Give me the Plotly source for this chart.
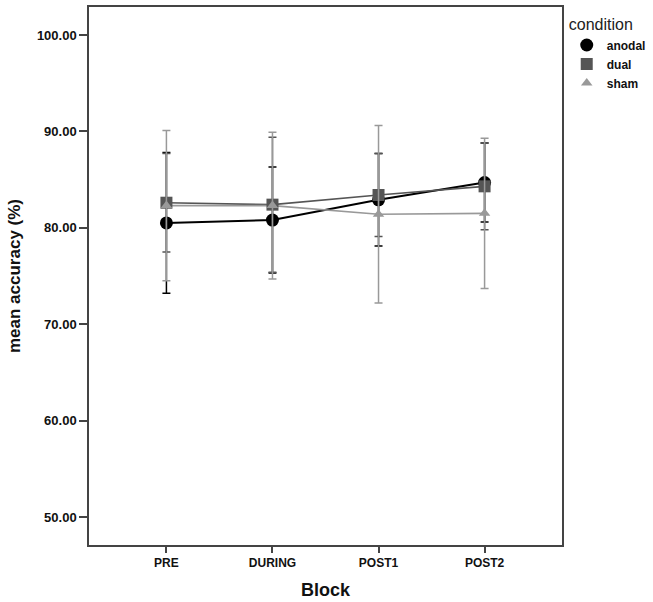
import plotly.graph_objects as go

blocks = ["PRE", "DURING", "POST1", "POST2"]
conditions = ["anodal", "dual", "sham"]
anodal_mean = [80.5, 80.8, 82.9, 84.7]
anodal_err = [7.3, 5.5, 4.8, 4.1]
dual_mean = [82.6, 82.4, 83.4, 84.3]
dual_err = [5.1, 7.0, 4.3, 4.5]
sham_mean = [82.3, 82.3, 81.4, 81.5]
sham_err = [7.8, 7.6, 9.2, 7.8]
y_ticks = [50, 60, 70, 80, 90, 100]

series = {
    "anodal": (anodal_mean, anodal_err, "#000000", "circle", 13, 2),
    "dual": (dual_mean, dual_err, "#555555", "square", 12, 1.6),
    "sham": (sham_mean, sham_err, "#999999", "triangle-up", 10, 1.6),
}

fig = go.Figure()
for name in conditions:
    m, e, c, sym, sz, lw = series[name]
    fig.add_trace(go.Scatter(
        x=blocks, y=m, mode="lines", line=dict(color=c, width=lw),
        showlegend=False, legendgroup=name, hoverinfo="skip"))
for name in conditions:
    m, e, c, sym, sz, lw = series[name]
    fig.add_trace(go.Scatter(
        x=blocks, y=m, mode="markers", name=name, legendgroup=name,
        marker=dict(color=c, symbol=sym, size=sz),
        error_y=dict(type="data", array=e, visible=True, color=c,
                     thickness=1.5, width=4)))

font_family = "Liberation Sans, Arial, sans-serif"
fig.update_layout(
    width=653, height=602,
    margin=dict(l=89, r=91, t=7, b=57, autoexpand=False),
    plot_bgcolor="white", paper_bgcolor="white",
    font=dict(family=font_family, color="#111111"),
    legend=dict(
        title=dict(text="condition", font=dict(size=16, color="#222222", weight="normal")),
        x=1.01, xanchor="left", y=0.995, yanchor="top",
        font=dict(size=12, color="#111111", weight="bold"),
        tracegroupgap=0, itemwidth=30, bgcolor="rgba(0,0,0,0)",
    ),
    xaxis=dict(
        range=[-0.73, 3.73], showline=True, mirror=True, linecolor="#444444", linewidth=1.5,
        ticks="outside", ticklen=6, tickwidth=1.5, tickcolor="#444444",
        showgrid=False, zeroline=False, automargin=False,
        tickfont=dict(size=12, weight="bold"),
        title=dict(text="Block", font=dict(size=18, weight="bold"), standoff=14),
    ),
    yaxis=dict(
        range=[47.1, 102.9], showline=True, mirror=True, linecolor="#444444", linewidth=1.5,
        ticks="outside", ticklen=8, tickwidth=1.5, tickcolor="#444444",
        tickvals=y_ticks, tickformat=".2f",
        showgrid=False, zeroline=False, automargin=False,
        tickfont=dict(size=13, weight="bold"),
        title=dict(text="mean accuracy (%)", font=dict(size=17, weight="bold"), standoff=12),
    ),
)

fig.write_html("out.html", config={"displayModeBar": False},
               post_script="document.body.style.margin='0px';")
